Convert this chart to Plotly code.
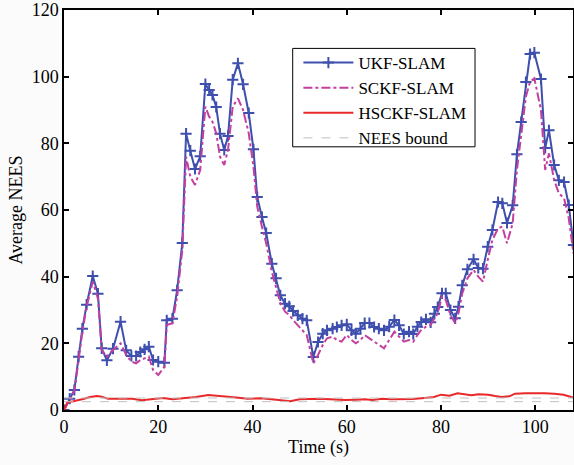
import plotly.graph_objects as go

# Time stamps (s)
t = [0, 1.2, 2.2, 3.1, 3.9, 4.8, 6.1, 7.2, 8.0, 9.1, 10.4, 12.0, 13.2, 14.3, 15.3, 16.2, 17.1, 18.0, 18.9,
     20.0, 21.3, 21.8, 23.0, 24.0, 25.1, 25.9, 26.8, 27.8, 28.9, 30.0, 30.8, 31.5, 32.3, 33.1, 34.0, 34.8,
     35.8, 36.9, 38.0, 39.2, 40.2, 41.0, 42.0, 42.9, 44.1, 45.0, 45.9, 46.9, 47.8, 48.6, 49.6, 50.6, 51.5,
     52.9, 53.9, 54.9, 55.8, 57.0, 57.9, 58.9, 60.0, 61.0, 61.9, 62.9, 63.8, 64.8, 65.8, 66.8, 67.9, 69.0,
     70.1, 71.1, 72.1, 73.2, 74.1, 75.0, 75.8, 76.8, 77.8, 78.6, 79.3, 80.2, 81.0, 82.0, 83.0, 83.7, 84.5,
     85.6, 86.9, 87.9, 88.9, 89.9, 90.9, 92.1, 93.0, 94.0, 95.2, 96.1, 97.0, 98.0, 98.9, 99.8, 101.2, 102.1,
     102.9, 104.0, 105.0, 106.1, 107.1, 108.1]

ukf = [0, 3.4, 6, 16, 24.4, 31.6, 40.2, 34.9, 18.5, 14.9, 18.4, 26.5, 17.9, 16.2, 16.2, 17.4, 18.2, 19, 15,
       14.5, 14.2, 26.9, 27.4, 35.9, 50.1, 82.9, 77.8, 72.3, 76.1, 97.8, 96, 94.5, 90.9, 82.9, 78, 82.2,
       99.1, 104, 97.7, 89.1, 78.2, 63.9, 57.9, 53.1, 43.9, 39.5, 34.4, 31.9, 31.1, 29.7, 28.4, 27.4, 26.9,
       15.9, 20.4, 22.9, 23.9, 24.4, 24.9, 25.4, 25.7, 23.9, 22.9, 24.4, 26.1, 26.1, 24.9, 24.4, 23.9, 25,
       27, 25.4, 22.8, 23.5, 22.8, 25, 26.4, 27.2, 26.3, 28.9, 30.9, 35, 35, 30, 27.5, 31, 37.4,
       42.2, 45.2, 42.6, 42.4, 49, 54, 62.4, 62, 56.1, 61.4, 76.7, 86.4, 98.4, 106.8, 107.2, 99.3, 78.6,
       83.9, 73.5, 68.9, 68.4, 61.5, 49.5]

sckf = [0, 3.2, 5.8, 15, 23.5, 31, 38.5, 33.5, 18, 16, 18, 20, 16.5, 14.5, 14, 15, 15.5, 16, 12,
        10.5, 13, 25.5, 26, 34, 48, 76, 70, 67.5, 72, 91, 88, 86.5, 83, 76, 73.5, 78,
        91, 93.5, 90, 83, 73, 61, 55, 50, 41.5, 37, 32, 29.5, 28.5, 27, 25.5, 24, 22.5,
        14, 16.5, 19.5, 21.5, 22, 21, 20.5, 22.5, 21, 20, 21, 22.5, 21.5, 20.5, 19.5, 18.5, 21,
        23.5, 22, 20.5, 21, 20.5, 22.5, 24, 25, 25.5, 27.5, 29, 34, 33, 28.5, 26, 29, 35,
        39.5, 42, 40, 38.5, 45, 51, 54.5, 55, 50, 56, 72, 83, 94, 98.5, 99.5, 90, 72,
        77, 69, 65, 63.5, 57.5, 47]

# HSCKF-SLAM
t_h = [0, 0.7, 2.0, 3.1, 4.3, 5.5, 7.0, 8.0, 9.3, 12.0, 14.5, 16.5, 19.0, 21.0, 23.0, 25.5, 28.0, 30.6,
       33.0, 36.0, 39.0, 41.7, 44.0, 46.0, 48.0, 50.0, 52.0, 54.0, 56.5, 59.6, 62.0, 63.8, 65.5, 67.4,
       69.5, 71.6, 74.0, 76.5, 78.5, 80.0, 81.8, 83.5, 85.0, 86.4, 88.0, 90.0, 91.5, 92.8, 94.5, 95.7,
       98.0, 99.9, 102.0, 104.0, 106.0, 107.6, 108.2]
hsckf = [0, 2.3, 2.6, 2.9, 3.4, 3.9, 4.2, 4.0, 3.4, 3.4, 3.4, 2.9, 3.3, 3.6, 3.2, 3.5, 3.9, 4.5,
         4.1, 3.8, 3.4, 3.5, 3.2, 3.0, 2.6, 3.2, 3.3, 3.4, 3.2, 3.0, 3.1, 3.2, 3.0, 3.4,
         3.2, 3.2, 3.3, 3.6, 3.9, 4.6, 4.3, 5.0, 4.6, 4.4, 4.7, 4.6, 4.2, 3.9, 4.1, 4.9,
         5.0, 5.1, 5.0, 4.9, 4.6, 3.9, 3.8]

bound_t = [0, 108]
bound_hi = [3.6, 3.6]
bound_lo = [2.5, 2.5]

x_ticks = [0, 20, 40, 60, 80, 100]
y_ticks = [0, 20, 40, 60, 80, 100, 120]

FONT = "Liberation Serif"

fig = go.Figure()
fig.add_trace(go.Scatter(x=t, y=ukf, mode="lines+markers", name="UKF-SLAM",
                         line=dict(color="#3e4fae", width=2),
                         marker=dict(symbol="cross-thin", size=8, line=dict(color="#3e4fae", width=2))))
fig.add_trace(go.Scatter(x=t, y=sckf, mode="lines", name="SCKF-SLAM",
                         line=dict(color="#c43f9e", width=2, dash="dashdot")))
fig.add_trace(go.Scatter(x=t_h, y=hsckf, mode="lines", name="HSCKF-SLAM",
                         line=dict(color="#e8282a", width=2)))
fig.add_trace(go.Scatter(x=bound_t, y=bound_hi, mode="lines", name="NEES bound",
                         line=dict(color="#c0c0c0", width=1, dash="dash")))
fig.add_trace(go.Scatter(x=bound_t, y=bound_lo, mode="lines", name="NEES bound",
                         line=dict(color="#c0c0c0", width=1, dash="dash"), showlegend=False))

axis_common = dict(showline=True, linecolor="black", linewidth=1.5, mirror="ticks",
                   ticks="inside", ticklen=5, tickwidth=1.5, tickcolor="black",
                   showgrid=False, zeroline=False, automargin=False,
                   tickfont=dict(family=FONT, size=18, color="black"))

fig.update_layout(
    width=574, height=465,
    margin=dict(l=64, r=1, t=10, b=55),
    paper_bgcolor="#fbfbfb", plot_bgcolor="white",
    font=dict(family=FONT, color="black"),
    xaxis=dict(range=[0, 108], tickvals=x_ticks,
               title=dict(text="Time (s)", font=dict(family=FONT, size=18), standoff=2),
               **axis_common),
    yaxis=dict(range=[0, 120], tickvals=y_ticks,
               title=dict(text="Average NEES", font=dict(family=FONT, size=18), standoff=4),
               **axis_common),
    legend=dict(x=0.4605, y=0.9125, xanchor="left", yanchor="top",
                borderwidth=0, bgcolor="rgba(0,0,0,0)",
                font=dict(family=FONT, size=17, color="black"),
                itemwidth=50),
    shapes=[dict(type="rect", xref="paper", yref="paper",
                 x0=0.4493, x1=0.8075, y0=0.658, y1=0.904,
                 line=dict(color="black", width=1), fillcolor="white", layer="above")],
    showlegend=True,
)

fig.write_html("out.html", post_script="document.body.style.margin='0px';",
               config={"displayModeBar": False})
